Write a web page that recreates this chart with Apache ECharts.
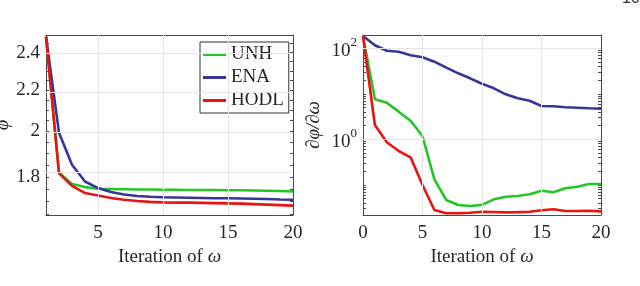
<!DOCTYPE html>
<html><head><meta charset="utf-8">
<script src="https://cdn.jsdelivr.net/npm/echarts@6/dist/echarts.min.js"></script>
<style>html,body{margin:0;padding:0;background:#fff}#c{width:640px;height:286px}</style>
</head><body><div id="c"></div>
<script>
// ---- Data ----
const iterLeft = [1,2,3,4,5,6,7,8,9,10,11,12,13,14,15,16,17,18,19,20];
const unhLeft  = [2.49,1.818,1.771,1.758,1.751,1.750,1.749,1.748,1.748,1.747,1.747,1.746,1.746,1.746,1.745,1.745,1.744,1.743,1.742,1.740];
const enaLeft  = [2.49,1.994,1.851,1.781,1.754,1.738,1.728,1.722,1.719,1.717,1.716,1.715,1.714,1.713,1.713,1.712,1.711,1.710,1.708,1.707];
const hodlLeft = [2.49,1.815,1.763,1.734,1.724,1.714,1.707,1.702,1.699,1.697,1.696,1.696,1.695,1.694,1.693,1.692,1.690,1.688,1.686,1.684];

const iterRight = [0,1,2,3,4,5,6,7,8,9,10,11,12,13,14,15,16,17,18,19,20];
const enaRight  = [186,117,88.5,84.1,70.1,63.4,50.8,37.5,28.2,21.9,16.6,13.2,9.75,7.96,7.05,5.40,5.31,5.05,4.95,4.80,4.71];
const unhRight  = [186,7.57,6.37,4.05,2.56,1.18,0.132,0.0463,0.0360,0.0342,0.0363,0.0480,0.0547,0.0568,0.0618,0.0741,0.0684,0.0838,0.0908,0.104,0.104];
const hodlRight = [186,2.06,0.859,0.553,0.402,0.0991,0.0279,0.0237,0.0237,0.0244,0.0256,0.0252,0.0248,0.0251,0.0256,0.0275,0.0290,0.0265,0.0265,0.0270,0.0261];

const seriesNames = ['UNH','ENA','HODL'];
const leftXTicks = [5,10,15,20];
const rightXTicks = [0,5,10,15,20];
const leftYTicks = [1.8,2,2.2,2.4];
const rightYTicks = [1,100];
const leftYRange = [1.648,2.5];
const rightYRange = [0.0217,196];

// ---- Styling ----
const colors = {UNH:'#26c526', ENA:'#35359a', HODL:'#e81414'};
const FONT = 'Liberation Serif';
const TXT = '#262626';
const AX = '#4a4a4a';
const GRIDC = '#e6e6e6';
const lg = Math.log10;

const leftMinor = []; for (let i = 33; i <= 50; i++) leftMinor.push(lg(i*0.05));
const rightMinor = []; for (let k = -2; k <= 2; k++) for (let m = 1; m <= 9; m++) { const v = m*Math.pow(10,k); if (v >= rightYRange[0] && v <= rightYRange[1]) rightMinor.push(lg(v)); }

function xAx(grid, pos, min, max, ticks, labels, name) {
  return {
    type:'value', gridIndex:grid, position:pos, min:min, max:max,
    axisLine:{show:true, onZero:false, lineStyle:{color:AX, width:1}},
    axisTick:{show:true, inside:true, length:4, customValues:ticks, lineStyle:{color:AX}},
    axisLabel:{show:labels, customValues:ticks, margin:9, color:TXT, fontFamily:FONT, fontSize:19},
    splitLine:{show:false},
    name: name || '', nameLocation:'middle', nameGap:24,
    nameTextStyle:{color:TXT, fontFamily:FONT, fontSize:19, rich:{i:{fontStyle:'italic', fontFamily:FONT, fontSize:19, color:TXT}}}
  };
}
function yAx(grid, pos, min, max, ticks, labelVals, labels, fmt, name, gap) {
  return {
    type:'value', gridIndex:grid, position:pos, min:min, max:max,
    axisLine:{show:true, onZero:false, lineStyle:{color:AX, width:1}},
    axisTick:{show:true, inside:true, length:3, customValues:ticks, lineStyle:{color:AX}},
    axisLabel:{show:labels, customValues:labelVals, margin:6, color:TXT, fontFamily:FONT, fontSize:19, formatter:fmt,
      rich:{b:{fontFamily:FONT, fontSize:19, color:TXT, lineHeight:24, verticalAlign:'bottom'}, s:{fontFamily:FONT, fontSize:13, color:TXT, verticalAlign:'top', lineHeight:13}}},
    splitLine:{show:false},
    name: name || '', nameLocation:'middle', nameGap:gap || 30,
    nameTextStyle:{color:TXT, fontFamily:FONT, fontSize:19, fontStyle:'italic'}
  };
}
const leftFmt = v => String(+Math.pow(10, v).toFixed(1));
const rightFmt = v => '{b|10}{s|' + Math.round(v) + '}';

const ly0 = lg(leftYRange[0]), ly1 = lg(leftYRange[1]);
const ry0 = lg(rightYRange[0]), ry1 = lg(rightYRange[1]);

function lineSeries(name, xs, ys, xi, yi) {
  return {
    name: name, type:'line', xAxisIndex:xi, yAxisIndex:yi, z:3,
    data: xs.map((x, i) => [x, lg(ys[i])]),
    symbol:'none', showSymbol:false, smooth:false, clip:true,
    lineStyle:{color:colors[name], width:2.6}, itemStyle:{color:colors[name]},
    animation:false
  };
}
function gridSeries(xi, yi, xVals, yVals) {
  return {
    type:'line', xAxisIndex:xi, yAxisIndex:yi, data:[], z:1, silent:true, animation:false,
    markLine:{silent:true, symbol:'none', animation:false, label:{show:false},
      lineStyle:{color:GRIDC, width:1, type:'solid'},
      data: xVals.map(v => ({xAxis:v})).concat(yVals.map(v => ({yAxis:v})))}
  };
}

const option = {
  animation:false,
  backgroundColor:'#fff',
  grid:[
    {left:46, top:35, width:247, height:180, outerBoundsMode:'none'},
    {left:363, top:35, width:238, height:180, outerBoundsMode:'none'}
  ],
  xAxis:[
    xAx(0,'bottom',1,20,leftXTicks,true,'Iteration of {i|ω}'),
    xAx(0,'top',1,20,leftXTicks,false),
    xAx(1,'bottom',0,20,rightXTicks,true,'Iteration of {i|ω}'),
    xAx(1,'top',0,20,rightXTicks,false)
  ],
  yAxis:[
    yAx(0,'left',ly0,ly1,leftMinor,leftYTicks.map(lg),true,leftFmt,'φ',28),
    yAx(0,'right',ly0,ly1,leftMinor,leftYTicks.map(lg),false,leftFmt),
    yAx(1,'left',ry0,ry1,rightMinor,rightYTicks.map(lg),true,rightFmt,'∂φ/∂ω',40),
    yAx(1,'right',ry0,ry1,rightMinor,rightYTicks.map(lg),false,rightFmt)
  ],
  legend:{
    data:seriesNames.map(n => ({name:n, icon:'rect', itemStyle:{color:colors[n]}})),
    orient:'vertical', left:200, top:42,
    itemWidth:23, itemHeight:3, itemGap:4, padding:[3,5,3,3],
    backgroundColor:'#fff', borderColor:'#333', borderWidth:1, borderRadius:0,
    textStyle:{color:TXT, fontFamily:FONT, fontSize:19},
    selectedMode:false
  },
  series:[
    gridSeries(0,0,[5,10,15],leftYTicks.map(lg)),
    gridSeries(2,2,[5,10,15],rightYTicks.map(lg)),
    lineSeries('UNH', iterLeft, unhLeft, 0, 0),
    lineSeries('ENA', iterLeft, enaLeft, 0, 0),
    lineSeries('HODL', iterLeft, hodlLeft, 0, 0),
    lineSeries('UNH', iterRight, unhRight, 2, 2),
    lineSeries('ENA', iterRight, enaRight, 2, 2),
    lineSeries('HODL', iterRight, hodlRight, 2, 2)
  ],
  graphic:[
    {type:'text', left:622, top:-9, style:{text:'10', fontFamily:'Liberation Sans', fontSize:16, fill:'#333'}}
  ]
};
const chart = echarts.init(document.getElementById('c'), null, {renderer:'canvas'});
chart.setOption(option);
</script>
</body></html>
